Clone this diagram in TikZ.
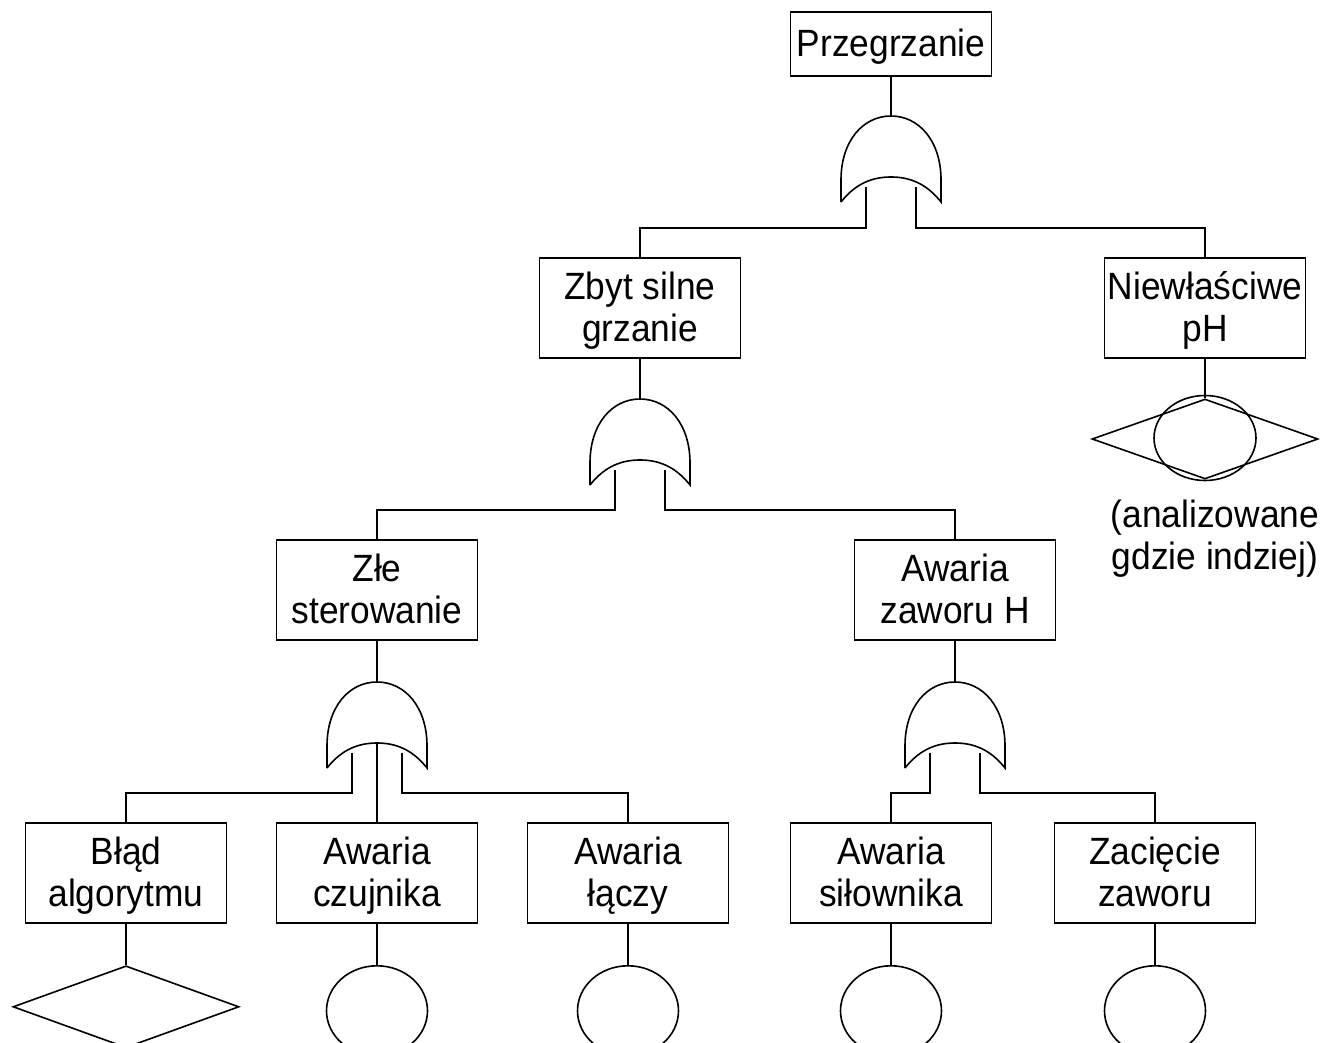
\documentclass[tikz,border=0pt]{standalone}
\usepackage{fontspec}
\setmainfont[FakeStretch=0.93]{Liberation Sans}
\usetikzlibrary{shapes.geometric}
\begin{document}
\begin{tikzpicture}[x=1pt,y=-1pt,
  txt/.style={font=\fontsize{38}{42}\selectfont,align=center,inner sep=0pt},
  event/.style={txt,draw,line width=1.3pt,minimum width=201pt,minimum height=100pt},
  wire/.style={line width=1.6pt},
  basic/.style={draw,ellipse,line width=1.6pt,minimum width=101pt,minimum height=90pt,inner sep=0pt,anchor=north},
  undev/.style={draw,diamond,line width=1.6pt,minimum width=226pt,minimum height=82pt,inner sep=0pt},
  orgate/.pic={
    \coordinate (-top) at (0,0);
    \coordinate (-in1) at (-25,71);
    \coordinate (-in2) at (25,71);
    \coordinate (-mid) at (0,61);
    \draw[line width=1.6pt] (-50,86) -- (-50,64)
      .. controls (-50,25) and (-28,0) .. (0,0)
      .. controls (28,0) and (50,25) .. (50,64) -- (50,86)
      .. controls (35,67) and (18,61) .. (0,61)
      .. controls (-18,61) and (-35,67) .. (-50,86);
  }]
% fixed line height so every label sits at the same baseline
\newcommand\evstrut{\vrule width 0pt height 33.4pt depth 8.6pt}
\newcommand\evtext[1]{\evstrut#1\evstrut}
\useasboundingbox (0,0) rectangle (1326,1043);
\clip (0,0) rectangle (1326,1043);

% top event
\node[event,minimum height=64pt] (top) at (891,44) {\evtext{Przegrzanie}};
\pic (g1) at (891,116) {orgate};
\draw[wire] (top) -- (g1-top);

% second level
\node[event] (zbyt) at (640,308) {\evtext{Zbyt silne}\\\evtext{grzanie}};
\node[event] (niew) at (1205,308) {\evtext{Niewłaściwe}\\\evtext{pH}};
\draw[wire] (g1-in1) -- ++(0,41) -| (zbyt);
\draw[wire] (g1-in2) -- ++(0,41) -| (niew);

% external event
\node[undev,minimum height=80pt] (ext) at (1205,439) {};
\node[draw,ellipse,line width=1.6pt,minimum width=102pt,minimum height=85pt,inner sep=0pt] (extc) at (1205,438) {};
\draw[wire] (niew) -- (ext);
\node[txt] (note) at (1215,536) {\evtext{(analizowane}\\\evtext{gdzie indziej)}};

% third level
\pic (g2) at (640,399) {orgate};
\draw[wire] (zbyt) -- (g2-top);
\node[event] (zle) at (377,590) {\evtext{Złe}\\\evtext{sterowanie}};
\node[event] (zaw) at (955,590) {\evtext{Awaria}\\\evtext{zaworu H}};
\draw[wire] (g2-in1) -- ++(0,40) -| (zle);
\draw[wire] (g2-in2) -- ++(0,40) -| (zaw);

% fourth level
\pic (g3) at (377,682) {orgate};
\pic (g4) at (955,682) {orgate};
\draw[wire] (zle) -- (g3-top);
\draw[wire] (zaw) -- (g4-top);
\node[event] (blad) at (126,873) {\evtext{Błąd}\\\evtext{algorytmu}};
\node[event] (czuj) at (377,873) {\evtext{Awaria}\\\evtext{czujnika}};
\node[event] (lacz) at (628,873) {\evtext{Awaria}\\\evtext{łączy}};
\node[event] (silo) at (891,873) {\evtext{Awaria}\\\evtext{siłownika}};
\node[event] (zac) at (1155,873) {\evtext{Zacięcie}\\\evtext{zaworu}};
\draw[wire] (g3-in1) -- ++(0,40) -| (blad);
\draw[wire] (g3-mid) -- (czuj);
\draw[wire] (g3-in2) -- ++(0,40) -| (lacz);
\draw[wire] (g4-in1) -- ++(0,40) -| (silo);
\draw[wire] (g4-in2) -- ++(0,40) -| (zac);

% basic and undeveloped events
\node[undev,anchor=north] (b1) at (126,965) {};
\node[basic] (b2) at (377,965) {};
\node[basic] (b3) at (628,965) {};
\node[basic] (b4) at (891,965) {};
\node[basic] (b5) at (1155,965) {};
\draw[wire] (blad) -- (b1);
\draw[wire] (czuj) -- (b2);
\draw[wire] (lacz) -- (b3);
\draw[wire] (silo) -- (b4);
\draw[wire] (zac) -- (b5);
\end{tikzpicture}
\end{document}
